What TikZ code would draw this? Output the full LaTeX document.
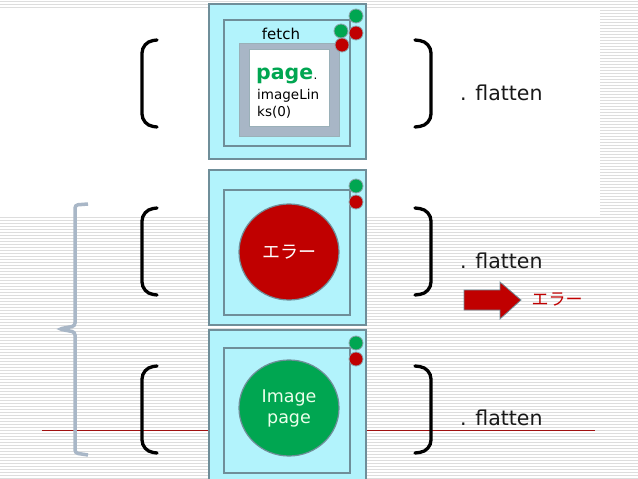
\documentclass[tikz,border=0pt]{standalone}
\usepackage{fontspec}
\setmainfont{DejaVu Sans}
\newfontfamily\jpfont{Noto Sans CJK JP}
\usetikzlibrary{shapes.geometric}
\definecolor{cyanbox}{HTML}{B2F3FC}
\definecolor{boxedge}{HTML}{6F8E99}
\definecolor{grn}{HTML}{00A651}
\definecolor{rd}{HTML}{C00000}
\definecolor{graybox}{HTML}{A8B6C6}
\definecolor{brackcol}{HTML}{A9B7C7}
\definecolor{stripe}{HTML}{DDDDDD}
\definecolor{redline}{HTML}{A01010}
\tikzset{
  outerbox/.style={draw=boxedge, fill=cyanbox, line width=1.6pt, inner sep=0pt, anchor=north west, minimum width=157, minimum height=155},
  innerbox/.style={draw=boxedge, fill=cyanbox, line width=1.6pt, inner sep=0pt, anchor=north west, minimum width=126, minimum height=126},
  graybx/.style={draw=boxedge!70, fill=graybox, line width=1pt, inner sep=0pt, anchor=north west},
  whitebx/.style={draw=boxedge!70, fill=white, line width=1pt, inner sep=0pt, anchor=north west},
  dot/.style={circle, draw=boxedge!80, line width=0.8pt, minimum size=14, inner sep=0pt},
  gdot/.style={dot, fill=grn},
  rdot/.style={dot, fill=rd},
  bigcirc/.style={ellipse, draw=boxedge, line width=1.2pt, minimum width=100, minimum height=96, inner sep=0pt},
  paren/.style={line width=3.3pt, black, rounded corners=11, line cap=round},
  flat/.style={anchor=base west, inner sep=0pt, font=\fontsize{20.5}{24}\selectfont, text=black!90},
}
\begin{document}
\begin{tikzpicture}[x=1pt,y=-1pt]
\useasboundingbox (0,0) rectangle (638,479);
\clip (0,0) rectangle (638,479);
% background
\fill[white] (0,0) rectangle (638,479);
\foreach \yy in {1,4,...,478} \draw[stripe, line width=1pt] (0,\yy) -- (638,\yy);
\fill[white] (0,8) rectangle (600,215);
% red horizontal line
\coordinate (rlA) at (42,430);
\coordinate (rlB) at (595,430);
\draw[redline, line width=0.8pt] (rlA) -- (rlB);
% box 1
\node[outerbox] (o1) at (208,3) {};
\node[innerbox] (i1) at (223,19) {};
\node[graybx, minimum width=100, minimum height=93] (g1) at (239,43) {};
\node[whitebx, minimum width=80, minimum height=77] (w1) at (249,49) {};
\node[inner sep=0pt, font=\fontsize{15}{18}\selectfont] (fetch) at (281,34) {fetch};
\node[inner sep=0pt, anchor=base west, font=\fontsize{20.5}{24}\selectfont\bfseries, text=grn] (pg) at (256,79) {page};
\node[inner sep=0pt, anchor=base west, font=\fontsize{12}{14}\selectfont] (pgdot) at (pg.base east) {.};
\node[inner sep=0pt, anchor=base west, font=\fontsize{13.5}{16}\selectfont] (il1) at (257,99) {imageLin};
\node[inner sep=0pt, anchor=base west, font=\fontsize{13.5}{16}\selectfont] (il2) at (257,116) {ks(0)};
\node[gdot] (c1a) at (356,16) {};
\node[rdot] (c1b) at (356,33) {};
\node[gdot] (c1c) at (341,31) {};
\node[rdot] (c1d) at (342,45) {};
% box 2
\node[outerbox] (o2) at (208,169) {};
\node[innerbox, minimum height=125] (i2) at (223,189) {};
\node[bigcirc, fill=rd, text=white, font=\jpfont\fontsize{18}{20}\selectfont] (err) at (289,252) {エラー};
\node[gdot] (c2a) at (356,186) {};
\node[rdot] (c2b) at (356,202) {};
% box 3
\node[outerbox, minimum height=160] (o3) at (208,329) {};
\node[innerbox, minimum height=125] (i3) at (223,347) {};
\node[bigcirc, fill=grn, text=green!8, align=center, font=\fontsize{17.5}{21}\selectfont] (img) at (289,408) {Image\\page};
\node[gdot] (c3a) at (356,343) {};
\node[rdot] (c3b) at (356,359) {};
% parens
\draw[paren] (157,40) -- (142,42) -- (142,125) -- (157,127);
\draw[paren] (415,40) -- (431,42) -- (431,125) -- (415,127);
\draw[paren] (157,208) -- (142,210) -- (142,293) -- (157,295);
\draw[paren] (415,208) -- (431,210) -- (431,293) -- (415,295);
\draw[paren] (157,366) -- (142,368) -- (142,451) -- (157,453);
\draw[paren] (415,366) -- (431,368) -- (431,451) -- (415,453);
% big gray bracket
\draw[brackcol, line width=3.5pt, rounded corners=3] (88,204) -- (75,205) -- (75,326) -- (59,329) -- (75,332) -- (75,453) -- (88,455);
% flatten labels
\node[flat] (f1) at (460,100) {. flatten};
\node[flat] (f2) at (460,268) {. flatten};
\node[flat] (f3) at (460,425) {. flatten};
% red arrow
\draw[fill=rd, draw=boxedge, line width=0.8pt] (464,290) -- (500,290) -- (500,282) -- (521,300) -- (500,319) -- (500,310) -- (464,310) -- cycle;
\node[inner sep=0pt, text=rd, font=\jpfont\fontsize{17}{20}\selectfont] (errlbl) at (557,300) {エラー};
\end{tikzpicture}
\end{document}
